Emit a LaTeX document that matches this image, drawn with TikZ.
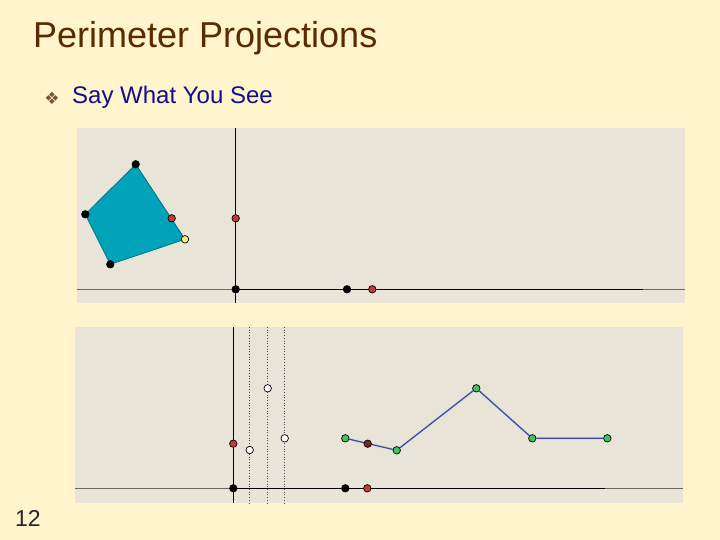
\documentclass[tikz,border=0pt]{standalone}
\usepackage{fontspec}
\setmainfont{Liberation Sans}
\newfontfamily\symfont{DejaVu Sans}
\definecolor{bgc}{HTML}{FFF4CC}
\definecolor{panelc}{HTML}{E8E4D8}
\definecolor{titlec}{HTML}{5A2A00}
\definecolor{subc}{HTML}{10108A}
\definecolor{tealc}{HTML}{00A3B8}
\definecolor{redc}{HTML}{C83838}
\definecolor{dredc}{HTML}{7A2424}
\definecolor{yelc}{HTML}{F4F07A}
\definecolor{greenc}{HTML}{44C060}
\definecolor{linec}{HTML}{3A4A9A}
\definecolor{axgrey}{HTML}{6A6A60}
\tikzset{
  pt/.style={circle,draw=black,line width=0.7pt,inner sep=0pt,minimum size=7.5pt},
  blk/.style={pt,fill=black},
  red/.style={pt,fill=redc},
  dred/.style={pt,fill=dredc},
  yel/.style={pt,fill=yelc},
  wht/.style={pt,fill=white},
  grn/.style={pt,fill=greenc},
  axis/.style={black,line width=1.3pt},
  axisl/.style={axgrey,line width=1.2pt},
  dots/.style={black!70,line width=0.7pt,dotted},
  poly/.style={line width=1.2pt,linec}
}
\begin{document}
\begin{tikzpicture}[x=1pt,y=-1pt]
\useasboundingbox (0,0) rectangle (720,540);
\fill[bgc] (0,0) rectangle (720,540);
% texts
\node[anchor=base west,inner sep=0pt,text=titlec,font=\fontsize{36}{40}\selectfont] (title) at (33,48) {Perimeter Projections};
\node[anchor=center,inner sep=0pt,text=titlec!80,font=\symfont\fontsize{17}{19}\selectfont] (bul) at (52,98.5) {❖};
\node[anchor=base west,inner sep=0pt,text=subc,font=\fontsize{24}{27}\selectfont] (sub) at (72,104) {Say What You See};
\node[anchor=base west,inner sep=0pt,text=black!85,font=\fontsize{23}{26}\selectfont] (num) at (15,526) {12};
% top panel
\fill[panelc] (77,128) rectangle (685,303);
\draw[axisl] (77,289.3) -- (235.7,289.3);
\draw[axis] (235.7,289.3) -- (643,289.3);
\draw[axisl] (643,289.3) -- (685,289.3);
\draw[axis] (235.7,128) -- (235.7,303);
\coordinate (c1) at (135.7,164.3);
\coordinate (c2) at (85.3,214.3);
\coordinate (c3) at (110.3,264.3);
\coordinate (c4) at (185,239.3);
\fill[tealc] (c1) -- (c2) -- (c3) -- (c4) -- cycle;
\draw[tealc!70!black,line width=0.8pt] (c1) -- (c2) -- (c3) -- (c4) -- cycle;
\node[blk] (p1) at (c1) {};
\node[blk] (p2) at (c2) {};
\node[blk] (p3) at (c3) {};
\node[yel] (p4) at (c4) {};
\node[red] (e1) at (171.7,218.3) {};
\node[red] (ay1) at (235.7,218.3) {};
\node[blk] (o1) at (235.7,289.3) {};
\node[blk] (b1) at (347,289.3) {};
\node[red] (r1) at (372.3,289.3) {};
% bottom panel
\fill[panelc] (75,327) rectangle (683,503);
\draw[dots] (249.7,327) -- (249.7,503);
\draw[dots] (267.7,327) -- (267.7,503);
\draw[dots] (284.7,327) -- (284.7,503);
\draw[axisl] (75,488.3) -- (233.3,488.3);
\draw[axis] (233.3,488.3) -- (605,488.3);
\draw[axisl] (605,488.3) -- (683,488.3);
\draw[axis] (233.3,327) -- (233.3,503);
\node[wht] (w1) at (267.7,388.3) {};
\node[wht] (w2) at (284.7,438.3) {};
\node[wht] (w3) at (249.7,450) {};
\node[red] (ay2) at (233.3,443.7) {};
\node[blk] (o2) at (233.3,488.3) {};
\node[blk] (b2) at (345.3,488.3) {};
\node[red] (r2) at (367.3,488.3) {};
\node[grn] (g1) at (345.3,438.3) {};
\node[grn] (g2) at (396.7,450.3) {};
\node[grn] (g3) at (476.3,388.3) {};
\node[grn] (g4) at (532.3,438.3) {};
\node[grn] (g5) at (607.3,438.3) {};
\draw[poly,white!70!linec,line width=3pt,opacity=0.35] (g1) -- (g2) -- (g3) -- (g4) -- (g5);
\draw[poly] (g1) -- (g2) -- (g3) -- (g4) -- (g5);
\node[dred] (dr) at (367.7,443.7) {};
\end{tikzpicture}
\end{document}
